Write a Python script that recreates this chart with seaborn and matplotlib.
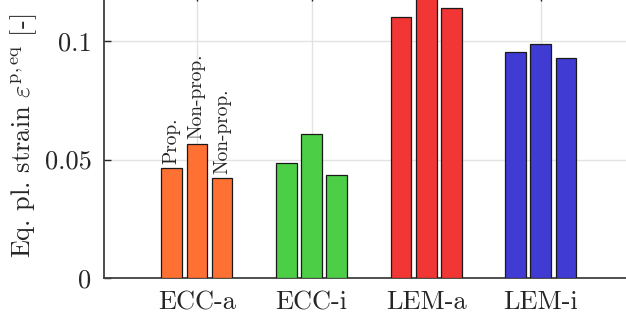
import numpy as np
import pandas as pd
import matplotlib
matplotlib.use("Agg")
import matplotlib.pyplot as plt
import seaborn as sns

categories = ["ECC-a", "ECC-i", "LEM-a", "LEM-i"]
series = ["Prop.", "Non-prop. 1", "Non-prop. 2"]
series_labels = ["Prop.", "Non-prop.", "Non-prop."]
prop_vals = [0.0463, 0.0485, 0.1103, 0.0952]
nonprop1_vals = [0.0567, 0.0608, 0.1220, 0.0986]
nonprop2_vals = [0.0422, 0.0433, 0.1141, 0.0927]
cat_colors = ["#FF7033", "#4CCF47", "#F23535", "#3F3BD3"]
yticks = [0, 0.05, 0.1]
ytick_labels = ["0", "0.05", "0.1"]

rows = []
for s, vals in zip(series, [prop_vals, nonprop1_vals, nonprop2_vals]):
    for c, v in zip(categories, vals):
        rows.append({"cat": c, "series": s, "val": v})
df = pd.DataFrame(rows)

sns.set_style("white")
plt.rcParams["font.family"] = "serif"
plt.rcParams["font.serif"] = ["cmr10", "DejaVu Serif"]
plt.rcParams["mathtext.fontset"] = "cm"
plt.rcParams["axes.unicode_minus"] = False
plt.rcParams["axes.formatter.use_mathtext"] = True

fig = plt.figure(figsize=(6.26, 3.22), dpi=100)
ax = fig.add_axes([104 / 626, 44 / 322, 540 / 626, 284.4 / 322])

sns.barplot(data=df, x="cat", y="val", hue="series", order=categories,
            hue_order=series, width=0.66, gap=0.18, ax=ax,
            edgecolor="#1a1a1a", linewidth=0.9, legend=False, zorder=3)

for p in ax.patches:
    xc = p.get_x() + p.get_width() / 2
    idx = int(round(xc))
    if 0 <= idx < len(cat_colors):
        p.set_facecolor(cat_colors[idx])

# annotations above first group
first_group = [p for p in ax.patches if int(round(p.get_x() + p.get_width() / 2)) == 0]
first_group.sort(key=lambda p: p.get_x())
for p, lab in zip(first_group, series_labels):
    ax.annotate(lab, (p.get_x() + p.get_width() / 2, p.get_height()),
                xytext=(0, 3), textcoords="offset points",
                rotation=90, ha="center", va="bottom", fontsize=14, zorder=4)

ax.set_xlim(-0.81, 3.9)
ax.set_ylim(0, 0.12)
ax.set_yticks(yticks)
ax.set_yticklabels(ytick_labels)
ax.grid(True, color="#e3e3e3", linewidth=1.0, zorder=0)
ax.set_axisbelow(True)
ax.tick_params(axis="both", direction="in", length=5, width=1.0, color="#262626",
               labelsize=19, top=True, bottom=True, left=True, right=False)
ax.tick_params(axis="y", pad=9)
ax.tick_params(axis="x", pad=9)
for side in ["right"]:
    ax.spines[side].set_visible(False)
for side in ["left", "bottom", "top"]:
    ax.spines[side].set_color("#404040")
    ax.spines[side].set_linewidth(1.3)
ax.set_xlabel("")
ax.set_ylabel(r"Eq. pl. strain $\varepsilon^{\mathrm{p,eq}}$ [-]", fontsize=19, labelpad=4)

fig.savefig("out.png", dpi=100)
